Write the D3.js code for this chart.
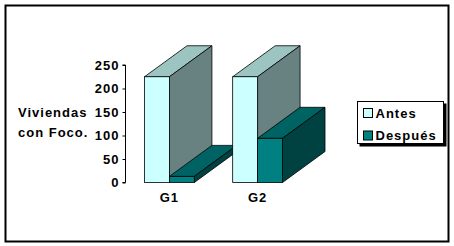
<!DOCTYPE html>
<html>
  <head>
	<meta charset="utf-8">
	<title>Viviendas con Foco</title>
	<style>
		body { margin: 0; background: #fff; }
		svg text { font-family: "Liberation Sans", Arial, sans-serif; font-weight: bold; font-size: 13px; letter-spacing: 1px; fill: #000; }
	</style>
  </head>
  <body>
	<div id="chart"></div>
	<script src="https://d3js.org/d3.v7.min.js"></script>
	<script>
	  (function(d3) {
		'use strict';

		var categories = ['G1', 'G2'];
		var seriesNames = ['Antes', 'Después'];
		var antes = [225, 225];
		var despues = [13, 94];
		var yTicks = [0, 50, 100, 150, 200, 250];

		var width = 454;
		var height = 246;
		var depthX = 42.5;
		var depthY = -31;

		// front, top, side colours per series
		var colors = [
		  { front: '#ccffff', top: '#9cc5c2', side: '#678280' },
		  { front: '#008080', top: '#006363', side: '#004242' }
		];

		var svg = d3.select('#chart')
		  .append('svg')
		  .attr('width', width)
		  .attr('height', height);

		svg.append('rect')
		  .attr('x', 5.5)
		  .attr('y', 5.5)
		  .attr('width', 443)
		  .attr('height', 236)
		  .attr('fill', 'none')
		  .attr('stroke', '#000')
		  .attr('stroke-width', 2);

		var y = d3.scaleLinear()
		  .domain([0, 250])
		  .range([182.5, 65]);

		var x0 = d3.scaleBand()
		  .domain(categories)
		  .range([144.5, 282.5])
		  .paddingInner(0.435)
		  .paddingOuter(0);

		var x1 = d3.scaleBand()
		  .domain(seriesNames)
		  .range([0, x0.bandwidth()]);

		// y axis
		var yAxis = svg.append('g')
		  .attr('transform', 'translate(125.5,0)')
		  .call(d3.axisLeft(y).tickValues(yTicks).tickSize(3).tickPadding(3));
		yAxis.selectAll('path, line').attr('stroke', '#000');
		yAxis.select('.domain').attr('d', 'M-3,' + y(250) + 'H0V' + y(0) + 'H-3');
		yAxis.selectAll('text')
		  .attr('font-family', null)
		  .attr('font-size', null);

		// axis title
		svg.append('text').attr('x', 18).attr('y', 117).text('Viviendas');
		svg.append('text').attr('x', 18).attr('y', 137).text('con Foco.');

		// bars
		var data = [];
		categories.forEach(function(c, i) {
		  data.push({ cat: c, s: 0, value: antes[i] });
		  data.push({ cat: c, s: 1, value: despues[i] });
		});

		var bar = svg.selectAll('g.bar')
		  .data(data)
		  .enter()
		  .append('g')
		  .attr('class', 'bar');

		function pts(arr) {
		  return arr.map(function(p) { return p.join(','); }).join(' ');
		}

		bar.each(function(d) {
		  var g = d3.select(this);
		  var bx = x0(d.cat) + x1(seriesNames[d.s]);
		  var bw = x1.bandwidth();
		  var yt = y(d.value);
		  var yb = y(0);
		  var col = colors[d.s];
		  g.append('polygon')
			.attr('points', pts([[bx, yt], [bx + depthX, yt + depthY], [bx + bw + depthX, yt + depthY], [bx + bw, yt]]))
			.attr('fill', col.top)
			.attr('stroke', '#000')
			.attr('stroke-width', 0.8);
		  g.append('polygon')
			.attr('points', pts([[bx + bw, yt], [bx + bw + depthX, yt + depthY], [bx + bw + depthX, yb + depthY], [bx + bw, yb]]))
			.attr('fill', col.side)
			.attr('stroke', '#000')
			.attr('stroke-width', 0.8);
		  g.append('rect')
			.attr('x', bx)
			.attr('y', yt)
			.attr('width', bw)
			.attr('height', yb - yt)
			.attr('fill', col.front)
			.attr('stroke', '#000')
			.attr('stroke-width', 0.8);
		});

		// category labels
		svg.selectAll('text.cat')
		  .data(categories)
		  .enter()
		  .append('text')
		  .attr('class', 'cat')
		  .attr('x', function(d) { return x0(d) + x0.bandwidth() / 2; })
		  .attr('y', 202)
		  .attr('text-anchor', 'middle')
		  .text(function(d) { return d; });

		// legend
		var legend = svg.append('g');
		legend.append('rect')
		  .attr('x', 359.5).attr('y', 103.5)
		  .attr('width', 87).attr('height', 43)
		  .attr('fill', '#000');
		legend.append('rect')
		  .attr('x', 357.5).attr('y', 101.5)
		  .attr('width', 86).attr('height', 42)
		  .attr('fill', '#fff')
		  .attr('stroke', '#000');

		var item = legend.selectAll('g.item')
		  .data(seriesNames)
		  .enter()
		  .append('g')
		  .attr('class', 'item')
		  .attr('transform', function(d, i) { return 'translate(363,' + (108 + i * 22.5) + ')'; });
		item.append('rect')
		  .attr('x', 0.5).attr('y', 0.5)
		  .attr('width', 9).attr('height', 9)
		  .attr('fill', function(d, i) { return colors[i].front; })
		  .attr('stroke', '#000');
		item.append('text')
		  .attr('x', 12.5)
		  .attr('y', 9.5)
		  .text(function(d) { return d; });

	  })(window.d3);
	</script>
  </body>
</html>
